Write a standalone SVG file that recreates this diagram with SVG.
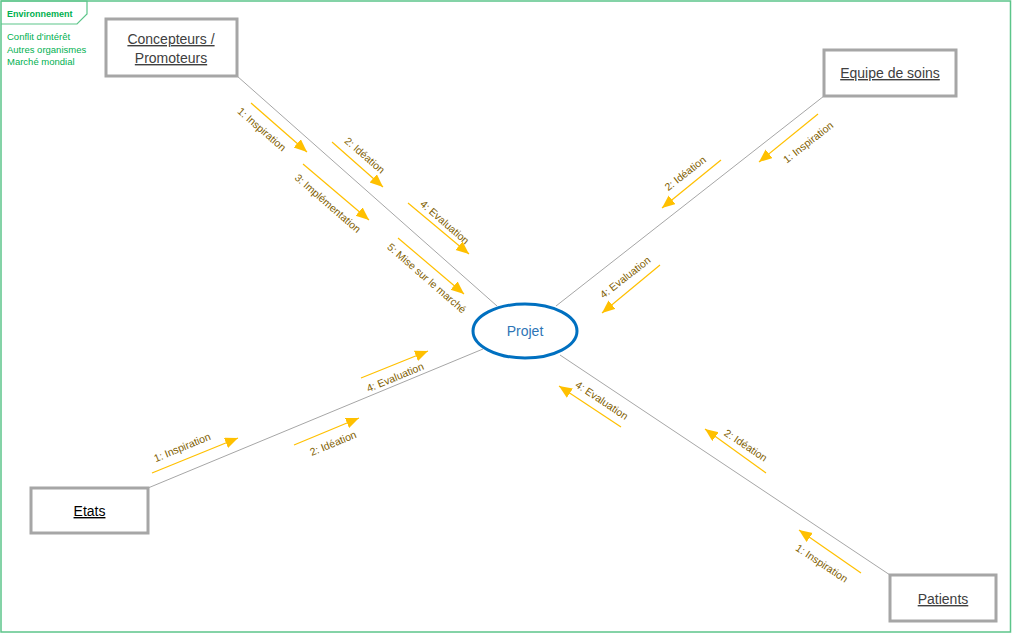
<svg xmlns="http://www.w3.org/2000/svg" width="1013" height="634" viewBox="0 0 1013 634">
<defs>
<marker id="ah" markerUnits="userSpaceOnUse" markerWidth="14" markerHeight="12" refX="13" refY="5.5" orient="auto">
<path d="M0,0 L13,5.5 L0,11 z" fill="#FFC000"/>
</marker>
<style>
.env{font-family:"Liberation Sans",Arial,sans-serif;fill:#00B050;font-size:9.5px}
.box{fill:#fff;stroke:#A6A6A6;stroke-width:3}
.nt{font-family:"Liberation Sans",Arial,sans-serif;font-size:14px;fill:#404040;text-anchor:middle;text-decoration:underline}
.conn{stroke:#A6A6A6;stroke-width:1;fill:none}
.arr{stroke:#FFC000;stroke-width:1.2;fill:none;marker-end:url(#ah)}
.lbl{font-family:"Liberation Sans",Arial,sans-serif;font-size:10.5px;fill:#7F6000;text-anchor:middle;dominant-baseline:central}
</style>
</defs>
<rect width="1013" height="634" fill="#fff"/>
<g id="environnement">
<rect x="1" y="1" width="1009.5" height="631" fill="none" stroke="#5CC58A" stroke-width="1.5"/>
<path d="M1,1 H87 V14 L77,24 H1" fill="none" stroke="#5CC58A" stroke-width="1.2"/>
<text x="7" y="16.5" class="env" style="font-weight:bold;font-size:9px">Environnement</text>
<text x="7" y="40" class="env">Conflit d'intérêt</text>
<text x="7" y="52.5" class="env">Autres organismes</text>
<text x="7" y="65" class="env">Marché mondial</text>
</g>
<g id="connectors">
<line class="conn" x1="237" y1="76" x2="497" y2="306"/>
<line class="conn" x1="824" y1="96" x2="556" y2="306"/>
<line class="conn" x1="148" y1="488" x2="483" y2="349"/>
<line class="conn" x1="890" y1="575" x2="560" y2="355"/>
</g>
<g id="messages">
<line class="arr" x1="251" y1="103" x2="307" y2="152"/>
<text class="lbl" x="262" y="129" transform="rotate(41 262 129)">1: Inspiration</text>
<line class="arr" x1="332" y1="142" x2="383" y2="187"/>
<text class="lbl" x="365" y="155" transform="rotate(41 365 155)">2: Idéation</text>
<line class="arr" x1="303" y1="164" x2="369" y2="220"/>
<text class="lbl" x="328" y="203" transform="rotate(41 328 203)">3: Implémentation</text>
<line class="arr" x1="408" y1="203" x2="469" y2="254"/>
<text class="lbl" x="445" y="222" transform="rotate(41 445 222)">4: Evaluation</text>
<line class="arr" x1="398" y1="238" x2="464" y2="294"/>
<text class="lbl" x="427" y="278" transform="rotate(41 427 278)">5: Mise sur le marché</text>

<line class="arr" x1="818" y1="114" x2="759" y2="162"/>
<text class="lbl" x="808" y="142" transform="rotate(-38 808 142)">1: Inspiration</text>
<line class="arr" x1="721" y1="160" x2="662" y2="208"/>
<text class="lbl" x="685" y="173" transform="rotate(-38 685 173)">2: Idéation</text>
<line class="arr" x1="660" y1="265" x2="602" y2="313"/>
<text class="lbl" x="625" y="277" transform="rotate(-38 625 277)">4: Evaluation</text>

<line class="arr" x1="152" y1="473" x2="238" y2="438"/>
<text class="lbl" x="182" y="447" transform="rotate(-22.4 182 447)">1: Inspiration</text>
<line class="arr" x1="294" y1="445" x2="359" y2="418"/>
<text class="lbl" x="333" y="443" transform="rotate(-22.4 333 443)">2: Idéation</text>
<line class="arr" x1="361" y1="378" x2="428" y2="351"/>
<text class="lbl" x="395" y="377" transform="rotate(-22.4 395 377)">4: Evaluation</text>

<line class="arr" x1="861" y1="573" x2="799" y2="530"/>
<text class="lbl" x="822" y="563" transform="rotate(33.7 822 563)">1: Inspiration</text>
<line class="arr" x1="766" y1="473" x2="705" y2="429"/>
<text class="lbl" x="746" y="445" transform="rotate(33.7 746 445)">2: Idéation</text>
<line class="arr" x1="621" y1="427" x2="559" y2="386"/>
<text class="lbl" x="602" y="400" transform="rotate(33.7 602 400)">4: Evaluation</text>
</g>
<g id="concepteurs">
<rect class="box" x="106" y="19" width="131" height="57"/>
<text class="nt" x="171" y="44">Concepteurs /</text>
<text class="nt" x="171" y="63">Promoteurs</text>
</g>
<g id="equipe">
<rect class="box" x="824" y="50" width="132" height="46"/>
<text class="nt" x="890" y="78">Equipe de soins</text>
</g>
<g id="etats">
<rect class="box" x="31" y="488" width="117" height="45"/>
<text class="nt" x="89.5" y="516" style="fill:#000">Etats</text>
</g>
<g id="patients">
<rect class="box" x="890" y="575" width="106" height="46"/>
<text class="nt" x="943" y="604">Patients</text>
</g>
<g id="projet">
<ellipse cx="525" cy="331" rx="52" ry="27" fill="#fff" stroke="#0070C0" stroke-width="3"/>
<text x="525" y="336" style="font-family:'Liberation Sans',Arial,sans-serif;font-size:14px;fill:#2E75B6;text-anchor:middle">Projet</text>
</g>
</svg>
